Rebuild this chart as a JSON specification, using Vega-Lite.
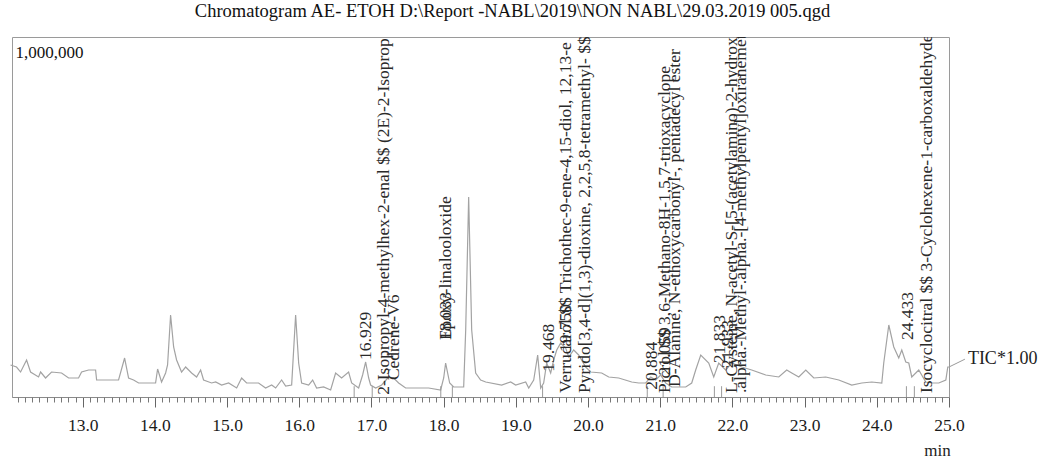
{
  "$schema": "https://vega.github.io/schema/vega-lite/v6.json",
  "width": 937,
  "height": 360,
  "autosize": {"type": "none"},
  "padding": {"left": 12, "top": 37, "right": 92, "bottom": 61},
  "background": "white",
  "config": {
    "view": {"stroke": "#9a9a9a", "strokeWidth": 1},
    "font": "Liberation Serif"
  },
  "title": {
    "text": "Chromatogram AE- ETOH  D:\\Report -NABL\\2019\\NON NABL\\29.03.2019 005.qgd",
    "font": "Liberation Serif",
    "fontSize": 18.5,
    "fontWeight": "normal",
    "color": "#111",
    "anchor": "middle",
    "dx": 32,
    "offset": 17
  },
  "resolve": {"axis": {"x": "independent"}},
  "datasets": {
    "trace": [
      {"t": 12.000, "v": 88900}, {"t": 12.083, "v": 83300}, {"t": 12.139, "v": 69400}, {"t": 12.222, "v": 102800},
      {"t": 12.277, "v": 69400}, {"t": 12.388, "v": 55600}, {"t": 12.416, "v": 69400}, {"t": 12.485, "v": 52800},
      {"t": 12.568, "v": 69400}, {"t": 12.707, "v": 66700}, {"t": 12.804, "v": 52800}, {"t": 12.942, "v": 52800},
      {"t": 12.984, "v": 69400}, {"t": 13.081, "v": 75000}, {"t": 13.178, "v": 75000}, {"t": 13.192, "v": 47200},
      {"t": 13.358, "v": 47200}, {"t": 13.496, "v": 47200}, {"t": 13.580, "v": 108300}, {"t": 13.635, "v": 52800},
      {"t": 13.704, "v": 47200}, {"t": 13.774, "v": 38900}, {"t": 14.009, "v": 38900}, {"t": 14.037, "v": 77800},
      {"t": 14.092, "v": 41700}, {"t": 14.148, "v": 66700}, {"t": 14.175, "v": 88900}, {"t": 14.217, "v": 227800},
      {"t": 14.259, "v": 138900}, {"t": 14.300, "v": 102800}, {"t": 14.369, "v": 69400}, {"t": 14.425, "v": 83300},
      {"t": 14.508, "v": 66700}, {"t": 14.577, "v": 55600}, {"t": 14.633, "v": 75000}, {"t": 14.674, "v": 47200},
      {"t": 14.785, "v": 38900}, {"t": 14.841, "v": 41700}, {"t": 14.924, "v": 33300}, {"t": 15.021, "v": 38900},
      {"t": 15.132, "v": 25000}, {"t": 15.201, "v": 52800}, {"t": 15.270, "v": 38900}, {"t": 15.436, "v": 38900},
      {"t": 15.533, "v": 25000}, {"t": 15.617, "v": 33300}, {"t": 15.672, "v": 25000}, {"t": 15.755, "v": 47200},
      {"t": 15.811, "v": 30600}, {"t": 15.894, "v": 33300}, {"t": 15.949, "v": 227800}, {"t": 15.991, "v": 94400},
      {"t": 16.032, "v": 38900}, {"t": 16.129, "v": 33300}, {"t": 16.185, "v": 47200}, {"t": 16.240, "v": 25000},
      {"t": 16.337, "v": 27800}, {"t": 16.434, "v": 19400}, {"t": 16.503, "v": 66700}, {"t": 16.586, "v": 52800},
      {"t": 16.683, "v": 69400}, {"t": 16.725, "v": 38900}, {"t": 16.822, "v": 25000}, {"t": 16.877, "v": 61100},
      {"t": 16.919, "v": 97200}, {"t": 16.961, "v": 52800}, {"t": 16.988, "v": 33300}, {"t": 17.058, "v": 25000},
      {"t": 17.141, "v": 33300}, {"t": 17.238, "v": 55600}, {"t": 17.307, "v": 52800}, {"t": 17.376, "v": 38900},
      {"t": 17.473, "v": 25000}, {"t": 17.792, "v": 25000}, {"t": 17.958, "v": 19400}, {"t": 18.000, "v": 52800},
      {"t": 18.027, "v": 94400}, {"t": 18.083, "v": 38900}, {"t": 18.138, "v": 27800}, {"t": 18.277, "v": 27800},
      {"t": 18.305, "v": 186100}, {"t": 18.346, "v": 555600}, {"t": 18.388, "v": 186100}, {"t": 18.443, "v": 66700},
      {"t": 18.512, "v": 47200}, {"t": 18.582, "v": 41700}, {"t": 18.803, "v": 33300}, {"t": 18.928, "v": 41700},
      {"t": 18.997, "v": 33300}, {"t": 19.136, "v": 41700}, {"t": 19.178, "v": 25000}, {"t": 19.247, "v": 47200},
      {"t": 19.302, "v": 116700}, {"t": 19.344, "v": 25000}, {"t": 19.385, "v": 38900}, {"t": 19.427, "v": 94400},
      {"t": 19.482, "v": 66700}, {"t": 19.524, "v": 102800}, {"t": 19.566, "v": 130600}, {"t": 19.621, "v": 150000},
      {"t": 19.690, "v": 136100}, {"t": 19.732, "v": 111100}, {"t": 19.801, "v": 130600}, {"t": 19.870, "v": 116700},
      {"t": 19.967, "v": 83300}, {"t": 20.037, "v": 69400}, {"t": 20.189, "v": 66700}, {"t": 20.286, "v": 55600},
      {"t": 20.425, "v": 52800}, {"t": 20.605, "v": 41700}, {"t": 20.702, "v": 38900}, {"t": 20.799, "v": 38900},
      {"t": 20.868, "v": 55600}, {"t": 20.937, "v": 47200}, {"t": 21.006, "v": 61100}, {"t": 21.076, "v": 38900},
      {"t": 21.159, "v": 27800}, {"t": 21.256, "v": 27800}, {"t": 21.353, "v": 27800}, {"t": 21.436, "v": 38900},
      {"t": 21.491, "v": 75000}, {"t": 21.561, "v": 116700}, {"t": 21.672, "v": 94400}, {"t": 21.741, "v": 55600},
      {"t": 21.810, "v": 94400}, {"t": 21.907, "v": 75000}, {"t": 21.990, "v": 94400}, {"t": 22.129, "v": 83300},
      {"t": 22.267, "v": 75000}, {"t": 22.461, "v": 61100}, {"t": 22.642, "v": 55600}, {"t": 22.752, "v": 75000},
      {"t": 22.822, "v": 66700}, {"t": 22.919, "v": 55600}, {"t": 23.016, "v": 75000}, {"t": 23.127, "v": 52800},
      {"t": 23.293, "v": 55600}, {"t": 23.473, "v": 47200}, {"t": 23.653, "v": 33300}, {"t": 23.792, "v": 38900},
      {"t": 23.930, "v": 41700}, {"t": 24.069, "v": 38900}, {"t": 24.096, "v": 94400}, {"t": 24.166, "v": 200000},
      {"t": 24.235, "v": 138900}, {"t": 24.304, "v": 108300}, {"t": 24.346, "v": 130600}, {"t": 24.401, "v": 97200},
      {"t": 24.443, "v": 94400}, {"t": 24.484, "v": 55600}, {"t": 24.581, "v": 75000}, {"t": 24.678, "v": 41700},
      {"t": 24.762, "v": 38900}, {"t": 24.859, "v": 38900}, {"t": 24.956, "v": 47200}, {"t": 24.983, "v": 83300},
      {"t": 25.000, "v": 83300}
    ],
    "markers": [
      {"t": 16.76, "v1": 0, "v2": 30000}, {"t": 17.01, "v1": 0, "v2": 30000}, {"t": 17.96, "v1": 0, "v2": 30000},
      {"t": 18.12, "v1": 0, "v2": 30000}, {"t": 19.37, "v1": 0, "v2": 30000}, {"t": 20.82, "v1": 0, "v2": 30000},
      {"t": 21.04, "v1": 0, "v2": 30000}, {"t": 21.75, "v1": 0, "v2": 30000}, {"t": 21.85, "v1": 0, "v2": 30000},
      {"t": 24.41, "v1": 0, "v2": 30000}, {"t": 24.52, "v1": 0, "v2": 30000}
    ],
    "peaks": [
      {"t": 16.929, "v": 103000, "label": "16.929"},
      {"t": 17.17, "v": 6000, "label": "2-Isopropyl-4-methylhex-2-enal $$ (2E)-2-Isoprop"},
      {"t": 17.31, "v": 47000, "label": "Cedrene-V6"},
      {"t": 18.033, "v": 158000, "label": "18.033"},
      {"t": 18.033, "v": 158000, "label": "Epoxy-linalooloxide"},
      {"t": 19.46, "v": 70000, "label": "19.468"},
      {"t": 19.69, "v": 11000, "label": "Verrucarol $$ Trichothec-9-ene-4,15-diol, 12,13-e"},
      {"t": 19.70, "v": 125000, "label": "19.750"},
      {"t": 19.96, "v": 11000, "label": "Pyrido[3,4-d](1,3)-dioxine, 2,2,5,8-tetramethyl- $$"},
      {"t": 20.884, "v": 20000, "label": "20.884"},
      {"t": 21.06, "v": 11000, "label": "Picrol $$ 3,6-Methano-8H-1,5,7-trioxacyclope"},
      {"t": 21.059, "v": 60000, "label": "21.059"},
      {"t": 21.21, "v": 28000, "label": "D-Alanine, N-ethoxycarbonyl-, pentadecyl ester"},
      {"t": 21.833, "v": 94000, "label": "21.833"},
      {"t": 21.933, "v": 80000, "label": "21.933"},
      {"t": 22.00, "v": 11000, "label": "L-Cysteine, N-acetyl-S-[5-(acetylamino)-2-hydroxy"},
      {"t": 22.12, "v": 11000, "label": ".alpha.-Methyl-.alpha.-[4-methylpentyl]oxiranemet"},
      {"t": 24.433, "v": 158000, "label": "24.433"},
      {"t": 24.69, "v": 11000, "label": "Isocyclocitral $$ 3-Cyclohexene-1-carboxaldehyde"}
    ],
    "tic": [{"t": 25.0, "v": 83300, "t2": 25.22, "v2": 105000, "label": "TIC*1.00"}]
  },
  "layer": [
    {
      "data": {"name": "trace"},
      "mark": {"type": "line", "color": "#a3a3a3", "strokeWidth": 1.2, "interpolate": "linear"},
      "encoding": {
        "x": {
          "field": "t", "type": "quantitative",
          "scale": {"domain": [12.02, 25.0], "nice": false, "zero": false},
          "axis": {
            "orient": "bottom",
            "title": "min",
            "titleFont": "Liberation Serif", "titleFontSize": 17, "titleFontWeight": "normal", "titleColor": "#222",
            "titleX": 925, "titleY": 53, "titleAlign": "center", "titleBaseline": "middle", "titleAnchor": null,
            "values": [13, 14, 15, 16, 17, 18, 19, 20, 21, 22, 23, 24, 25],
            "format": ".1f",
            "labelFont": "Liberation Serif", "labelFontSize": 17.5, "labelColor": "#1a1a1a",
            "labelOverlap": false, "labelFlush": false, "labelPadding": 9,
            "ticks": true, "tickColor": "#666", "tickWidth": 1, "tickSize": 10,
            "domainColor": "#8a8a8a", "grid": false
          }
        },
        "y": {
          "field": "v", "type": "quantitative",
          "scale": {"domain": [0, 1000000], "nice": false, "zero": true},
          "axis": {
            "title": null, "values": [1000000],
            "labelExpr": "format(datum.value, ',')",
            "labelAlign": "left", "labelBaseline": "top", "labelPadding": -3, "labelOffset": 7,
            "labelFont": "Liberation Serif", "labelFontSize": 17, "labelColor": "#111",
            "ticks": false, "domain": false, "grid": false
          }
        }
      }
    },
    {
      "data": {"name": "markers"},
      "mark": {"type": "rule", "color": "#9a9a9a", "strokeWidth": 1},
      "encoding": {
        "x": {
          "field": "t", "type": "quantitative",
          "axis": {
            "orient": "bottom",
            "title": null, "labels": false, "domain": false, "grid": false,
            "values": [12.1,12.2,12.3,12.4,12.5,12.6,12.7,12.8,12.9,13.1,13.2,13.3,13.4,13.5,13.6,13.7,13.8,13.9,14.1,14.2,14.3,14.4,14.5,14.6,14.7,14.8,14.9,15.1,15.2,15.3,15.4,15.5,15.6,15.7,15.8,15.9,16.1,16.2,16.3,16.4,16.5,16.6,16.7,16.8,16.9,17.1,17.2,17.3,17.4,17.5,17.6,17.7,17.8,17.9,18.1,18.2,18.3,18.4,18.5,18.6,18.7,18.8,18.9,19.1,19.2,19.3,19.4,19.5,19.6,19.7,19.8,19.9,20.1,20.2,20.3,20.4,20.5,20.6,20.7,20.8,20.9,21.1,21.2,21.3,21.4,21.5,21.6,21.7,21.8,21.9,22.1,22.2,22.3,22.4,22.5,22.6,22.7,22.8,22.9,23.1,23.2,23.3,23.4,23.5,23.6,23.7,23.8,23.9,24.1,24.2,24.3,24.4,24.5,24.6,24.7,24.8,24.9],
            "ticks": true, "tickColor": "#777", "tickWidth": 1, "tickSize": 5
          }
        },
        "y": {"field": "v1", "type": "quantitative"},
        "y2": {"field": "v2"}
      }
    },
    {
      "data": {"name": "peaks"},
      "mark": {"type": "text", "angle": 270, "align": "left", "baseline": "middle", "font": "Liberation Serif", "fontSize": 17.5, "color": "#2a2a2a", "clip": true},
      "encoding": {
        "x": {"field": "t", "type": "quantitative", "axis": null},
        "y": {"field": "v", "type": "quantitative"},
        "text": {"field": "label"}
      }
    },
    {
      "data": {"name": "tic"},
      "mark": {"type": "rule", "color": "#9a9a9a", "strokeWidth": 1},
      "encoding": {
        "x": {"field": "t", "type": "quantitative", "axis": null},
        "x2": {"field": "t2"},
        "y": {"field": "v", "type": "quantitative"},
        "y2": {"field": "v2"}
      }
    },
    {
      "data": {"name": "tic"},
      "mark": {"type": "text", "align": "left", "baseline": "middle", "font": "Liberation Serif", "fontSize": 18, "color": "#222", "dx": 3},
      "encoding": {
        "x": {"field": "t2", "type": "quantitative", "axis": null},
        "y": {"field": "v2", "type": "quantitative"},
        "text": {"field": "label"}
      }
    }
  ]
}
